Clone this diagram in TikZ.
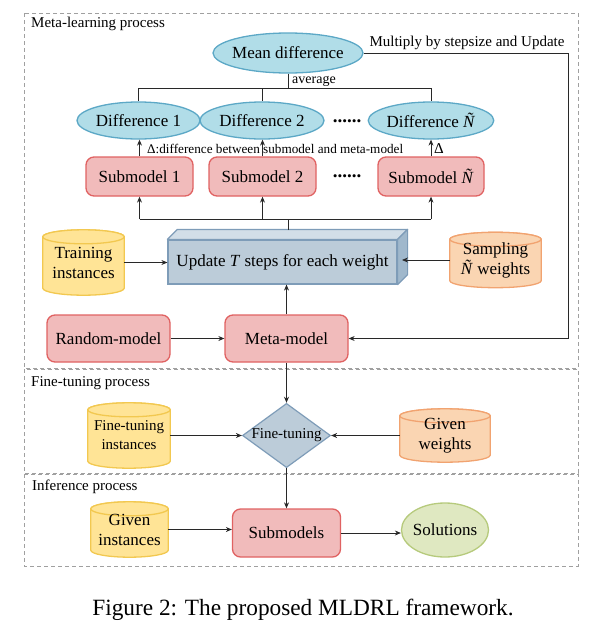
\documentclass[tikz,border=0pt]{standalone}
\usepackage{fontspec}
\setmainfont{Liberation Serif}
\usetikzlibrary{shapes.geometric,arrows.meta,backgrounds,calc}
\definecolor{bluefill}{RGB}{177,221,232}
\definecolor{bluedraw}{RGB}{92,168,198}
\definecolor{redfill}{RGB}{241,187,187}
\definecolor{reddraw}{RGB}{224,98,98}
\definecolor{updfront}{RGB}{188,204,217}
\definecolor{updtop}{RGB}{210,222,232}
\definecolor{updside}{RGB}{160,184,204}
\definecolor{upddraw}{RGB}{126,156,184}
\definecolor{yelfill}{RGB}{255,228,150}
\definecolor{yeldraw}{RGB}{242,200,80}
\definecolor{orfill}{RGB}{250,213,178}
\definecolor{ordraw}{RGB}{241,163,112}
\definecolor{grfill}{RGB}{223,232,193}
\definecolor{grdraw}{RGB}{182,202,124}
\definecolor{linec}{RGB}{40,40,40}
\definecolor{regc}{RGB}{160,160,160}
\newcommand\drawcyl[4]{%
  \path[fill=#2,draw=#3,line width=1.3pt]
    let \p1=(#1.north west), \p2=(#1.south east), \n1={(\x2-\x1)/2} in
    (\x1,\y1-#4) -- (\x1,\y2+#4)
    arc[start angle=180,end angle=360,x radius=\n1,y radius=#4]
    -- (\x2,\y1-#4)
    arc[start angle=0,end angle=180,x radius=\n1,y radius=#4] -- cycle;
  \path[fill=#2,draw=#3,line width=1.3pt]
    let \p1=(#1.north), \p2=(#1.north east), \n1={\x2-\x1} in
    (\x1,\y1-#4) ellipse[x radius=\n1,y radius=#4];
}
\tikzset{
  lbl/.style={font=\fontsize{17}{20}\selectfont, text=black},
  redbox/.style={rectangle, rounded corners=8pt, fill=redfill, draw=reddraw, line width=1.3pt, inner sep=0pt, lbl},
  blueell/.style={ellipse, fill=bluefill, draw=bluedraw, line width=1.3pt, inner sep=0pt, lbl},
  cylbox/.style={rectangle, inner sep=0pt, align=center, lbl},
  arr/.style={-{Stealth[length=6pt,width=5pt]}, line width=0.8pt, draw=linec},
  ln/.style={line width=0.8pt, draw=linec},
  region/.style={draw=regc, dash pattern=on 4pt off 3pt, line width=1pt},
  sect/.style={font=\fontsize{15}{17}\selectfont, anchor=west, inner sep=0pt},
  dots/.style={font=\fontsize{19}{20}\selectfont\bfseries, inner sep=0pt},
}
\begin{document}
\begin{tikzpicture}[x=1pt,y=-1pt]
\useasboundingbox (0,0) rectangle (590,640);
% section titles
\node[sect] (tmeta) at (31,24) {Meta-learning process};
\node[sect] (tfine) at (31,383) {Fine-tuning process};
\node[sect] (tinf) at (32,487) {Inference process};
% meta-learning nodes
\node[blueell, inner xsep=-3pt, minimum width=150, minimum height=40] (md) at (288,53) {Mean difference};
\node[blueell, minimum width=123, minimum height=37] (d1) at (138.5,120.5) {Difference 1};
\node[blueell, minimum width=124, minimum height=37] (d2) at (262,120.5) {Difference 2};
\node[blueell, minimum width=124, minimum height=37] (dN) at (431,120.5) {Difference \textit{Ñ}};
\node[dots] (dt1) at (347,121) {......};
\node[redbox, minimum width=107, minimum height=39] (s1) at (139.5,176.5) {Submodel 1};
\node[redbox, minimum width=107, minimum height=39] (s2) at (262.5,176.5) {Submodel 2};
\node[redbox, minimum width=106, minimum height=39] (sN) at (431,176.5) {Submodel \textit{Ñ}};
\node[dots] (dt2) at (347,176.5) {......};
\node[rectangle, fill=updfront, draw=upddraw, line width=1.2pt, minimum width=229, minimum height=44, inner sep=0pt, lbl] (upd) at (282.5,262) {Update \textit{T} steps for each weight};
\path[fill=updtop, draw=upddraw, line width=1.2pt, line join=round] (upd.north west) -- ++(10,-10) -- ([shift={(10,-10)}]upd.north east) -- (upd.north east) -- cycle;
\path[fill=updside, draw=upddraw, line width=1.2pt, line join=round] (upd.north east) -- ++(10,-10) -- ([shift={(10,-10)}]upd.south east) -- (upd.south east) -- cycle;
\node[cylbox, minimum width=81, minimum height=65] (ti) at (83.5,262.5) {Training\\instances};
\node[cylbox, minimum width=91, minimum height=55] (samp) at (495.5,260) {Sampling\\\textit{Ñ} weights};
\node[redbox, minimum width=123, minimum height=47] (rand) at (108.5,338.5) {Random-model};
\node[redbox, minimum width=123, minimum height=47] (meta) at (286.5,338.5) {Meta-model};
% fine-tuning nodes
\node[cylbox, minimum width=82, minimum height=65, font=\fontsize{15}{19}\selectfont] (ftinst) at (129,435.5) {Fine-tuning\\instances};
\node[diamond, aspect=1.37, fill=updfront, draw=upddraw, line width=1.2pt, inner sep=0pt, font=\fontsize{15}{17}\selectfont] (ft) at (286.5,435.5) {Fine-tuning};
\node[cylbox, minimum width=90, minimum height=53] (gw) at (445,435.5) {Given\\weights};
% inference nodes
\node[cylbox, minimum width=77, minimum height=55] (ginst) at (129.5,529.5) {Given\\instances};
\node[redbox, minimum width=108, minimum height=48] (subs) at (286.5,533) {Submodels};
\node[ellipse, fill=grfill, draw=grdraw, line width=1.3pt, inner sep=0pt, inner xsep=-1.5pt, minimum width=87, minimum height=54, lbl] (sol) at (445,530) {Solutions};
% labels
\node[anchor=west, inner sep=0pt, font=\fontsize{14}{16}\selectfont] (avg) at (292,81) {average};
\node[anchor=west, inner sep=0pt, font=\fontsize{13.2}{15}\selectfont] (dl) at (147,148.5) {Δ:difference between submodel and meta-model};
\node[anchor=west, inner sep=0pt, font=\fontsize{15}{16}\selectfont] (dl2) at (434,148.5) {Δ};
\node[inner sep=0pt, font=\fontsize{15}{17}\selectfont] (mult) at (467,43) {Multiply by stepsize and Update};
\node[inner sep=0pt, font=\fontsize{23.3}{26}\selectfont] (cap) at (303,610) {Figure 2: The proposed MLDRL framework.};
% background: regions and cylinders
\begin{pgfonlayer}{background}
\draw[region] (24,13) rectangle (578,368);
\draw[region] (24,369) rectangle (578,473);
\draw[region] (24,474) rectangle (578,566);
\drawcyl{ti}{yelfill}{yeldraw}{7pt}
\drawcyl{samp}{orfill}{ordraw}{7pt}
\drawcyl{ftinst}{yelfill}{yeldraw}{7pt}
\drawcyl{gw}{orfill}{ordraw}{7pt}
\drawcyl{ginst}{yelfill}{yeldraw}{7pt}
\end{pgfonlayer}
% coordinates
\coordinate (tb) at (288,88);
\coordinate (bb) at (288,219);
\coordinate (ut) at (288,230);
\coordinate (fb) at (568,0);
\coordinate (uside) at (402,0);
% connectors
\draw[ln] (md.south) -- (tb);
\draw[ln] (d1.north |- tb) -- (dN.north |- tb);
\draw[ln] (d1.north |- tb) -- (d1.north);
\draw[ln] (d2.north |- tb) -- (d2.north);
\draw[ln] (dN.north |- tb) -- (dN.north);
\draw[arr] (s1.north) -- (d1.south -| s1.north);
\draw[arr] (s2.north) -- (d2.south -| s2.north);
\draw[arr] (sN.north) -- (dN.south -| sN.north);
\draw[ln] (ut) -- (bb);
\draw[ln] (s1.south |- bb) -- (sN.south |- bb);
\draw[arr] (s1.south |- bb) -- (s1.south);
\draw[arr] (s2.south |- bb) -- (s2.south);
\draw[arr] (sN.south |- bb) -- (sN.south);
\draw[arr] (ti.east) -- (ti.east -| upd.west);
\draw[arr] (samp.west) -- (samp.west -| uside);
\draw[arr] (rand.east) -- (meta.west);
\draw[arr] (meta.north) -- (meta.north |- upd.south);
\draw[arr] (md.east) -- (md.east -| fb) -- (meta.east -| fb) -- (meta.east);
\draw[arr] (meta.south) -- (ft.north);
\draw[arr] (ftinst.east) -- (ft.west);
\draw[arr] (gw.west) -- (ft.east);
\draw[arr] (ft.south) -- (subs.north);
\draw[arr] (ginst.east) -- (ginst.east -| subs.west);
\draw[arr] (subs.east) -- (subs.east -| sol.west);
\end{tikzpicture}
\end{document}
